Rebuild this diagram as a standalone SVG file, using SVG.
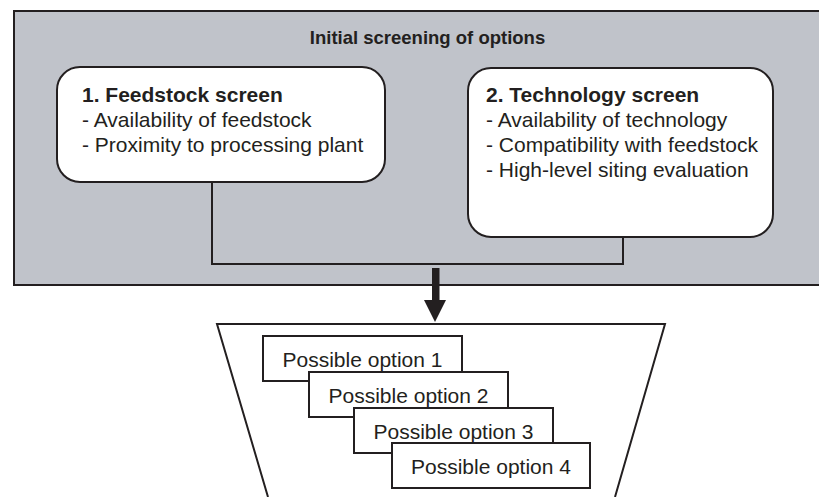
<svg xmlns="http://www.w3.org/2000/svg" width="819" height="497" viewBox="0 0 819 497">
<style>
.t{font-family:"Liberation Sans",Arial,sans-serif;fill:#231f20;}
.b{font-weight:bold;}
.ln{fill:none;stroke:#231f20;stroke-width:2;}
.box{fill:#fff;stroke:#231f20;stroke-width:2;}
</style>
<rect width="819" height="497" fill="#fff"/>
<g id="screening">
<rect x="14" y="11" width="820" height="274" fill="#c0c3ca" stroke="#231f20" stroke-width="2"/>
<text class="t b" x="427.5" y="44" font-size="18.5" text-anchor="middle">Initial screening of options</text>
</g>
<g id="feedstock">
<rect class="box" x="57" y="67" width="328" height="115" rx="23"/>
<text class="t b" x="82" y="102" font-size="21">1. Feedstock screen</text>
<text class="t" x="82" y="127" font-size="21">- Availability of feedstock</text>
<text class="t" x="82" y="152" font-size="21">- Proximity to processing plant</text>
</g>
<g id="technology">
<rect class="box" x="468" y="68" width="305" height="169" rx="23"/>
<text class="t b" x="486" y="102" font-size="21">2. Technology screen</text>
<text class="t" x="486" y="127" font-size="21">- Availability of technology</text>
<text class="t" x="486" y="152" font-size="21">- Compatibility with feedstock</text>
<text class="t" x="486" y="177" font-size="21">- High-level siting evaluation</text>
</g>
<g id="connectors">
<polyline class="ln" points="212,182 212,264 623,264 623,237"/>
<rect x="432" y="268" width="7.5" height="33" fill="#231f20"/>
<polygon points="424,300 446,300 435,322" fill="#231f20"/>
</g>
<g id="funnel">
<polyline class="ln" points="268,497 217,324 665,324 615,497"/>
</g>
<g id="option1">
<rect class="box" x="263" y="336" width="199" height="45"/>
<text class="t" x="362.5" y="367" font-size="21" text-anchor="middle">Possible option 1</text>
</g>
<g id="option2">
<rect class="box" x="309" y="372" width="199" height="45"/>
<text class="t" x="408.5" y="403" font-size="21" text-anchor="middle">Possible option 2</text>
</g>
<g id="option3">
<rect class="box" x="354" y="408" width="199" height="45"/>
<text class="t" x="453.5" y="439" font-size="21" text-anchor="middle">Possible option 3</text>
</g>
<g id="option4">
<rect class="box" x="392" y="443" width="198" height="45"/>
<text class="t" x="491" y="474" font-size="21" text-anchor="middle">Possible option 4</text>
</g>
</svg>
